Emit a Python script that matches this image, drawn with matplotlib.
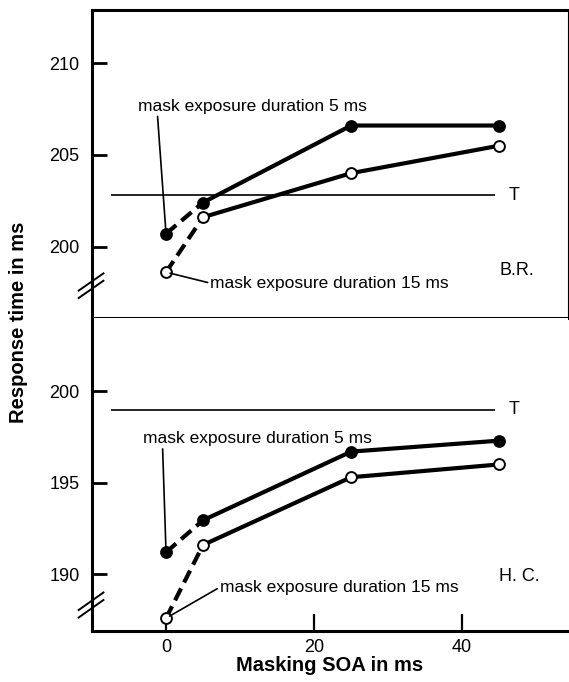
"""
Response time vs masking SOA, two observers (B.R. and H.C.)
"""

from matplotlib import pyplot as plt

plt.rcParams['font.family'] = ['Liberation Sans', 'DejaVu Sans']

soa = [0, 5, 25, 45]

# observer B.R.
br_5ms = [200.7, 202.4, 206.6, 206.6]
br_15ms = [198.6, 201.6, 204.0, 205.5]
br_T = 202.8

# observer H.C.
hc_5ms = [191.2, 192.95, 196.7, 197.3]
hc_15ms = [187.6, 191.6, 195.3, 196.0]
hc_T = 199.0

lbl_5 = "mask exposure duration 5 ms"
lbl_15 = "mask exposure duration 15 ms"

fig = plt.figure(figsize=(5.69, 6.82), dpi=100)
ax1 = fig.add_axes([0.1617, 0.5337, 0.8365, 0.4516])
ax2 = fig.add_axes([0.1617, 0.0748, 0.8365, 0.4589])

xlim = (-10, 54.3)


def draw_series(ax, y, filled):
    fc = 'black' if filled else 'white'
    ax.plot(soa[:2], y[:2], color='black', lw=3, ls=(0, (3.2, 1.6)), zorder=2)
    ax.plot(soa[1:], y[1:], color='black', lw=3, zorder=2)
    ax.plot(soa, y, ls='none', marker='o', ms=7.8, mfc=fc, mec='black', mew=1.4, zorder=3)


def style(ax, yticks):
    ax.set_xlim(*xlim)
    for s in ['left', 'bottom', 'top']:
        ax.spines[s].set_linewidth(2.2)
    ax.spines['right'].set_linewidth(0.8)
    ax.set_yticks(yticks)
    ax.tick_params(axis='y', direction='in', length=11, width=2, pad=9, labelsize=13)


def break_marks(ax, yc):
    # the "//" on the left spine
    for dy in (0.012, -0.012):
        ax.plot([-0.028, 0.024], [yc + dy - 0.028, yc + dy + 0.028],
                transform=ax.transAxes, color='black', lw=1.4, clip_on=False)


def annotate(ax, text, xy, xytext, va, relpos):
    ax.annotate(text, xy=xy, xytext=xytext, fontsize=12.5, va=va, ha='left',
                arrowprops=dict(arrowstyle='-', color='black', lw=1.2,
                                shrinkA=0, shrinkB=3, relpos=relpos))


# --- top panel (B.R.)
ax1.set_ylim(196.1, 212.9)
style(ax1, [200, 205, 210])
ax1.tick_params(axis='x', bottom=False, labelbottom=False)
ax1.hlines(br_T, -7.4, 44.5, color='black', lw=1.2)
ax1.text(46.3, br_T, "T", va='center', ha='left', fontsize=13)
draw_series(ax1, br_5ms, True)
draw_series(ax1, br_15ms, False)
annotate(ax1, lbl_5, (soa[0], br_5ms[0]), (-3.8, 207.25), 'bottom', (0.085, 0.0))
annotate(ax1, lbl_15, (soa[0], br_15ms[0]), (6.0, 198.0), 'center', (0.0, 0.5))
ax1.text(45.0, 198.7, "B.R.", fontsize=13, va='center', ha='left')
break_marks(ax1, 0.105)

# --- bottom panel (H.C.)
ax2.set_ylim(186.9, 204.0)
style(ax2, [190, 195, 200])
ax2.spines['right'].set_visible(False)
ax2.spines['top'].set_visible(False)
ax2.set_xticks([0, 20, 40])
ax2.tick_params(axis='x', direction='in', length=12, width=1.6, pad=6, labelsize=13)
ax2.hlines(hc_T, -7.4, 44.5, color='black', lw=1.2)
ax2.text(46.3, hc_T, "T", va='center', ha='left', fontsize=13)
draw_series(ax2, hc_5ms, True)
draw_series(ax2, hc_15ms, False)
annotate(ax2, lbl_5, (soa[0], hc_5ms[0]), (-3.1, 197.0), 'bottom', (0.085, 0.0))
annotate(ax2, lbl_15, (soa[0], hc_15ms[0]), (7.3, 189.3), 'center', (0.0, 0.5))
ax2.text(45.0, 189.9, "H. C.", fontsize=13, va='center', ha='left')
break_marks(ax2, 0.083)

ax2.set_xlabel("Masking SOA in ms", fontsize=14.5, fontweight='bold', labelpad=0)
fig.text(0.032, 0.528, "Response time in ms", rotation=90, fontsize=14.5,
         fontweight='bold', va='center', ha='center')

fig.savefig("out.png", dpi=100)
